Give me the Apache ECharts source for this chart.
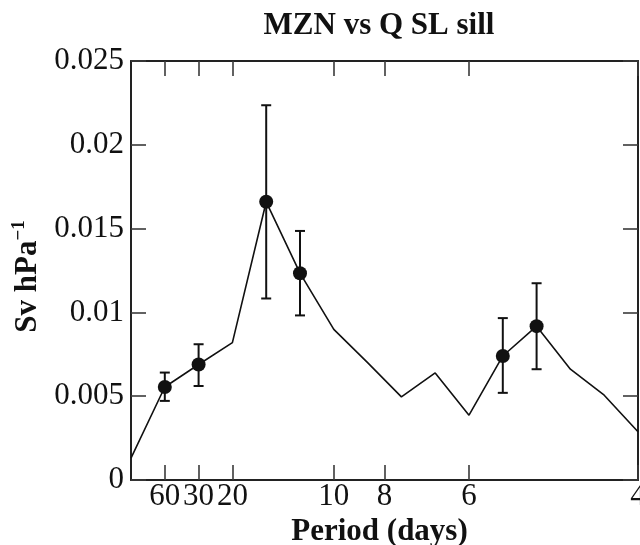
<!DOCTYPE html>
<html>
<head>
<meta charset="utf-8">
<title>MZN vs Q SL sill</title>
<script src="https://cdn.jsdelivr.net/npm/echarts@6/dist/echarts.min.js"></script>
<style>
  html, body { margin: 0; padding: 0; background: #fff; }
  #chart { width: 640px; height: 545px; }
</style>
</head>
<body>
<div id="chart"></div>
<script>
// Frequency (cycles per day) of each spectral estimate
const frequency = [0, 0.016667, 0.033333, 0.05, 0.066667, 0.083333, 0.1, 0.116667,
                   0.133333, 0.15, 0.166667, 0.183333, 0.2, 0.216667, 0.233333, 0.25];
// Transfer amplitude, Sv per hPa
const amplitude = [0.00131, 0.00555, 0.00689, 0.0082, 0.0166, 0.01234, 0.00899, 0.0070,
                   0.00496, 0.00639, 0.00387, 0.0074, 0.00918, 0.00661, 0.00506, 0.00288];
// Estimates shown with a marker and confidence interval
const markedIndex = [1, 2, 4, 5, 11, 12];
const errLow  = [0.00472, 0.00561, 0.01083, 0.00982, 0.0052, 0.00661];
const errHigh = [0.00641, 0.0081, 0.02236, 0.01486, 0.00966, 0.01174];
// Period labels on the frequency axis (days)
const periodTicks = [60, 30, 20, 10, 8, 6, 4];

const tickFreqs = periodTicks.map(p => 1 / p);
const lineData = frequency.map((f, i) => [f, amplitude[i]]);
const markerData = markedIndex.map(i => [frequency[i], amplitude[i]]);
const errData = markedIndex.map((i, k) => [frequency[i], errLow[k], errHigh[k]]);

const FONT = 'Liberation Serif, Times New Roman, serif';
const INK = '#111';
const frameLine = { show: true, onZero: false, lineStyle: { color: '#222', width: 2 } };
const tickStyle = { color: '#3a3a3a', width: 1.6 };

const chart = echarts.init(document.getElementById('chart'), null, { renderer: 'canvas' });

chart.setOption({
  animation: false,
  backgroundColor: '#fff',
  grid: { left: 131, right: 2, top: 61, bottom: 65, containLabel: false, outerBoundsMode: 'none' },
  graphic: [{
    type: 'text',
    x: 379, y: 26,
    style: {
      text: 'MZN vs Q SL sill',
      font: 'bold 31px ' + FONT,
      fill: INK,
      textAlign: 'center',
      textVerticalAlign: 'middle'
    }
  }],
  xAxis: [{
    type: 'value', min: 0, max: 0.25, position: 'bottom',
    axisLine: frameLine,
    axisTick: { show: true, inside: true, length: 15, customValues: tickFreqs, lineStyle: tickStyle },
    axisLabel: {
      customValues: tickFreqs, margin: 1,
      formatter: v => String(Math.round(1 / v)),
      fontFamily: FONT, fontSize: 31, color: INK, hideOverlap: false
    },
    splitLine: { show: false },
    name: 'Period (days)', nameLocation: 'middle', nameGap: 22,
    nameTextStyle: { fontFamily: FONT, fontSize: 31, fontWeight: 'bold', color: INK, padding: [0, 10, 0, 0] }
  }, {
    type: 'value', min: 0, max: 0.25, position: 'top',
    axisLine: frameLine,
    axisTick: { show: true, inside: true, length: 15, customValues: tickFreqs, lineStyle: tickStyle },
    axisLabel: { show: false },
    splitLine: { show: false }
  }],
  yAxis: [{
    type: 'value', min: 0, max: 0.025, interval: 0.005, position: 'left',
    axisLine: frameLine,
    axisTick: { show: true, inside: true, length: 15, lineStyle: tickStyle },
    axisLabel: { margin: 7, fontFamily: FONT, fontSize: 31, color: INK },
    splitLine: { show: false },
    name: '{a|Sv hPa}{b|\u22121}', nameLocation: 'middle', nameRotate: 90, nameGap: 81,
    nameTextStyle: {
      color: INK,
      padding: [0, 12, 0, 0],
      rich: {
        a: { fontFamily: FONT, fontSize: 31, fontWeight: 'bold', lineHeight: 34, verticalAlign: 'bottom' },
        b: { fontFamily: FONT, fontSize: 19, fontWeight: 'bold', lineHeight: 34, verticalAlign: 'top' }
      }
    }
  }, {
    type: 'value', min: 0, max: 0.025, interval: 0.005, position: 'right',
    axisLine: frameLine,
    axisTick: { show: true, inside: true, length: 15, lineStyle: tickStyle },
    axisLabel: { show: false },
    splitLine: { show: false }
  }],
  series: [{
    type: 'custom',
    xAxisIndex: 0, yAxisIndex: 0,
    data: errData,
    renderItem: (params, api) => {
      const x = api.value(0);
      const lo = api.coord([x, api.value(1)]);
      const hi = api.coord([x, api.value(2)]);
      const hw = 5;
      const st = { stroke: INK, lineWidth: 2 };
      return {
        type: 'group',
        children: [
          { type: 'line', shape: { x1: lo[0], y1: lo[1], x2: hi[0], y2: hi[1] }, style: st },
          { type: 'line', shape: { x1: lo[0] - hw, y1: lo[1], x2: lo[0] + hw, y2: lo[1] }, style: st },
          { type: 'line', shape: { x1: hi[0] - hw, y1: hi[1], x2: hi[0] + hw, y2: hi[1] }, style: st }
        ]
      };
    },
    z: 2
  }, {
    type: 'line',
    xAxisIndex: 0, yAxisIndex: 0,
    data: lineData,
    showSymbol: false, symbol: 'none',
    lineStyle: { color: INK, width: 1.6 },
    z: 3
  }, {
    type: 'scatter',
    xAxisIndex: 0, yAxisIndex: 0,
    data: markerData,
    symbol: 'circle', symbolSize: 14,
    itemStyle: { color: INK, opacity: 1 },
    emphasis: { disabled: true },
    z: 4
  }]
});
</script>
</body>
</html>
